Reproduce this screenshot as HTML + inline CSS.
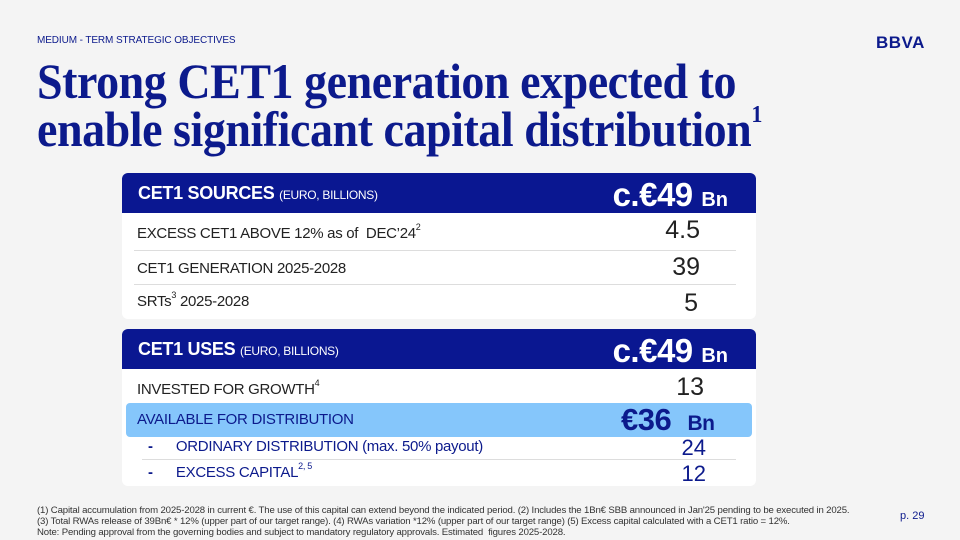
<!DOCTYPE html>
<html><head><meta charset="utf-8">
<style>
*{margin:0;padding:0;box-sizing:border-box}
body{width:960px;height:540px;background:#f4f4f4;position:relative;overflow:hidden;font-family:"Liberation Sans",sans-serif;color:#1a1a1a}
.abs{position:absolute;white-space:nowrap}
.title{font-family:"Liberation Serif",serif;font-weight:bold;color:#0c1a8c;font-size:50px;transform-origin:0 0;transform:scaleX(0.92);letter-spacing:-0.5px}
.card{position:absolute;left:122px;width:634px;background:#fff;border-radius:6px;overflow:hidden}
.hdr{position:absolute;left:0;top:0;width:634px;height:40px;background:#0a1791}
.hdr .t{position:absolute;left:16px;top:10px;color:#fff;font-size:18px;font-weight:bold;letter-spacing:-0.3px}
.hdr .t small{font-size:12px;font-weight:normal}
.hdr .v{position:absolute;right:28px;top:3px;color:#fff;font-size:33px;font-weight:bold;letter-spacing:-0.5px}
.hdr .v span{font-size:20px;letter-spacing:0}
.row{position:absolute;font-size:15px;color:#222;letter-spacing:-0.3px}
.val{position:absolute;font-size:25px;color:#222;text-align:right;width:80px}
.line{position:absolute;height:1px;background:#ddd}
sup{font-size:9px;vertical-align:top;position:relative;top:-3px}
.foot{font-size:9.6px;color:#333;line-height:11px;letter-spacing:-0.15px}
</style></head><body>
<div class="abs" style="left:37px;top:35px;font-size:10px;color:#0c1a8c;letter-spacing:-0.1px">MEDIUM - TERM STRATEGIC OBJECTIVES</div>
<div class="abs" style="left:876px;top:33px;font-size:17px;font-weight:bold;color:#0c1a8c;letter-spacing:0.5px">BBVA</div>
<div class="abs title" style="left:37px;top:52px">Strong CET1 generation expected to</div>
<div class="abs title" style="left:37px;top:100px">enable significant capital distribution<span style="font-size:24px;vertical-align:top;position:relative;top:2px">1</span></div>

<div class="card" style="top:173px;height:146px">
 <div class="hdr"><div class="t">CET1 SOURCES <small>(EURO, BILLIONS)</small></div><div class="v">c.€49 <span>Bn</span></div></div>
 <div class="row" style="left:15px;top:52px">EXCESS CET1 ABOVE 12% as of&nbsp; DEC’24<sup>2</sup></div>
 <div class="val" style="left:498px;top:43px">4.5</div>
 <div class="line" style="left:12px;top:77px;width:602px"></div>
 <div class="row" style="left:15px;top:87px">CET1 GENERATION 2025-2028</div>
 <div class="val" style="left:498px;top:80px">39</div>
 <div class="line" style="left:12px;top:111px;width:602px"></div>
 <div class="row" style="left:15px;top:120px">SRTs<sup>3</sup> 2025-2028</div>
 <div class="val" style="left:496px;top:116px">5</div>
</div>

<div class="card" style="top:329px;height:157px">
 <div class="hdr"><div class="t">CET1 USES <small>(EURO, BILLIONS)</small></div><div class="v">c.€49 <span>Bn</span></div></div>
 <div class="row" style="left:15px;top:52px">INVESTED FOR GROWTH<sup>4</sup></div>
 <div class="val" style="left:502px;top:44px">13</div>
 <div style="position:absolute;left:4px;top:74px;width:626px;height:34px;background:#85c6fb;border-radius:4px"></div>
 <div class="row" style="left:15px;top:82px;color:#0c1a8c">AVAILABLE FOR DISTRIBUTION</div>
 <div class="abs" style="left:499px;top:73px;font-size:31px;font-weight:bold;color:#0c1a8c;letter-spacing:-0.5px">€36&nbsp; <span style="font-size:21px">Bn</span></div>
 <div class="row" style="left:26px;top:109px;color:#0c1a8c"><b>-</b>&nbsp;&nbsp;&nbsp;&nbsp;&nbsp; ORDINARY DISTRIBUTION (max. 50% payout)</div>
 <div class="val" style="left:504px;top:106px;font-size:22px;color:#0c1a8c">24</div>
 <div class="line" style="left:20px;top:130px;width:594px"></div>
 <div class="row" style="left:26px;top:135px;color:#0c1a8c"><b>-</b>&nbsp;&nbsp;&nbsp;&nbsp;&nbsp; EXCESS CAPITAL<sup>2, 5</sup></div>
 <div class="val" style="left:504px;top:132px;font-size:22px;color:#0c1a8c">12</div>
</div>

<div class="abs foot" style="left:37px;top:505px">(1) Capital accumulation from 2025-2028 in current €. The use of this capital can extend beyond the indicated period. (2) Includes the 1Bn€ SBB announced in Jan'25 pending to be executed in 2025.<br>(3) Total RWAs release of 39Bn€ * 12% (upper part of our target range). (4) RWAs variation *12% (upper part of our target range) (5) Excess capital calculated with a CET1 ratio = 12%.<br>Note: Pending approval from the governing bodies and subject to mandatory regulatory approvals. Estimated&nbsp; figures 2025-2028.</div>
<div class="abs" style="left:900px;top:510px;font-size:11px;color:#0c1a8c">p. 29</div>
</body></html>
